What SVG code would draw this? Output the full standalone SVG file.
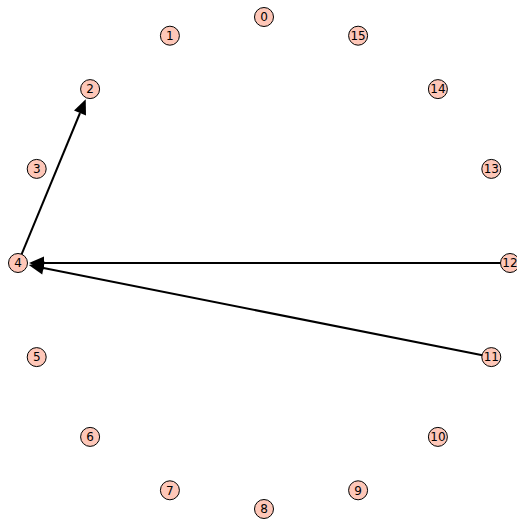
<svg xmlns="http://www.w3.org/2000/svg" width="517" height="521" viewBox="0 0 517 521">
<style>
.n circle{fill:#fec7b8;stroke:#000;stroke-width:1}
.n text{font-family:"DejaVu Sans",sans-serif;font-size:12px;text-anchor:middle;fill:#000}
.e line{stroke:#000;stroke-width:2;marker-end:url(#ah)}
</style>
<defs>
<marker id="ah" markerUnits="userSpaceOnUse" markerWidth="16" markerHeight="14" refX="0" refY="0" orient="auto" overflow="visible">
<path d="M0,-6.5 L15,0 L0,6.5 Z" fill="#000"/>
</marker>
</defs>
<rect width="517" height="521" fill="#fff"/>
<g id="edges" class="e">
<line x1="18" y1="263" x2="80" y2="113"/>
<line x1="510" y1="263" x2="44" y2="263"/>
<line x1="491.3" y1="357.1" x2="43.5" y2="268"/>
</g>
<g id="n0" class="n"><circle cx="264" cy="17" r="9.5"/><text x="264" y="21.3">0</text></g>
<g id="n1" class="n"><circle cx="169.9" cy="35.7" r="9.5"/><text x="169.9" y="40">1</text></g>
<g id="n2" class="n"><circle cx="90.1" cy="89.1" r="9.5"/><text x="90.1" y="93.4">2</text></g>
<g id="n3" class="n"><circle cx="36.7" cy="168.9" r="9.5"/><text x="36.7" y="173.2">3</text></g>
<g id="n4" class="n"><circle cx="18" cy="263" r="9.5"/><text x="18" y="267.3">4</text></g>
<g id="n5" class="n"><circle cx="36.7" cy="357.1" r="9.5"/><text x="36.7" y="361.4">5</text></g>
<g id="n6" class="n"><circle cx="90.1" cy="436.9" r="9.5"/><text x="90.1" y="441.2">6</text></g>
<g id="n7" class="n"><circle cx="169.9" cy="490.3" r="9.5"/><text x="169.9" y="494.6">7</text></g>
<g id="n8" class="n"><circle cx="264" cy="509" r="9.5"/><text x="264" y="513.3">8</text></g>
<g id="n9" class="n"><circle cx="358.1" cy="490.3" r="9.5"/><text x="358.1" y="494.6">9</text></g>
<g id="n10" class="n"><circle cx="437.9" cy="436.9" r="9.5"/><text x="437.9" y="441.2">10</text></g>
<g id="n11" class="n"><circle cx="491.3" cy="357.1" r="9.5"/><text x="491.3" y="361.4">11</text></g>
<g id="n12" class="n"><circle cx="510" cy="263" r="9.5"/><text x="510" y="267.3">12</text></g>
<g id="n13" class="n"><circle cx="491.3" cy="168.9" r="9.5"/><text x="491.3" y="173.2">13</text></g>
<g id="n14" class="n"><circle cx="437.9" cy="89.1" r="9.5"/><text x="437.9" y="93.4">14</text></g>
<g id="n15" class="n"><circle cx="358.1" cy="35.7" r="9.5"/><text x="358.1" y="40">15</text></g>
</svg>
